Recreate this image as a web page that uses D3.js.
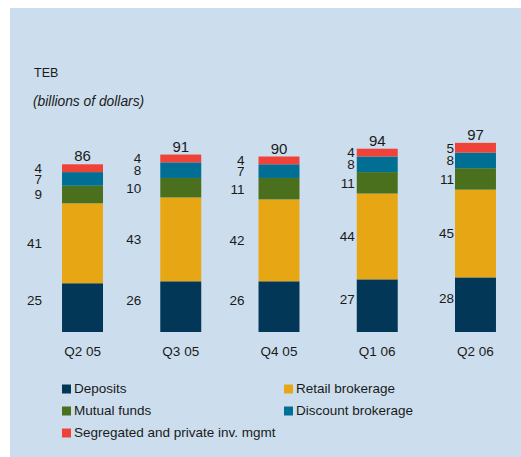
<!DOCTYPE html>
<html>
<head>
<meta charset="utf-8">
<script src="https://cdn.jsdelivr.net/npm/d3@7"></script>
<style>
  body { margin: 0; background: #fff; }
  svg { display: block; font-family: "Liberation Sans", Arial, sans-serif; }
</style>
</head>
<body>
<svg id="chart" width="521" height="457"></svg>
<script>
// data
const quarters = ["Q2 05", "Q3 05", "Q4 05", "Q1 06", "Q2 06"];
const seriesNames = ["Deposits", "Retail brokerage", "Mutual funds", "Discount brokerage", "Segregated and private inv. mgmt"];
const deposits = [25, 26, 26, 27, 28];
const retail = [41, 43, 42, 44, 45];
const mutual = [9, 10, 11, 11, 11];
const discount = [7, 8, 7, 8, 8];
const segregated = [4, 4, 4, 4, 5];
const totals = [86, 91, 90, 94, 97];

const colors = ["#023758", "#e7a614", "#4b701d", "#016f93", "#ef4239"];
// label distance left of each bar (the original is not consistent)
const labelGap = [20, 19, 14, 2, 1];

const svg = d3.select("#chart");

svg.append("rect")
    .attr("x", 10).attr("y", 8)
    .attr("width", 511).attr("height", 449)
    .attr("fill", "#ccdeed");

// titles
svg.append("text")
    .attr("x", 34).attr("y", 77)
    .attr("font-size", 12.5)
    .attr("fill", "#1a1a1a")
    .text("TEB");

svg.append("text")
    .attr("x", 33).attr("y", 106)
    .attr("font-size", 13.8)
    .attr("font-style", "italic")
    .attr("fill", "#1a1a1a")
    .text("(billions of dollars)");

// scales
const x = d3.scaleBand()
    .domain(quarters)
    .range([33.4, 524.6])
    .paddingInner(0.583)
    .paddingOuter(0.2915);

const y = d3.scaleLinear()
    .domain([0, 100])
    .range([332, 137]);

const table = quarters.map((q, i) => ({
    quarter: q,
    "Deposits": deposits[i],
    "Retail brokerage": retail[i],
    "Mutual funds": mutual[i],
    "Discount brokerage": discount[i],
    "Segregated and private inv. mgmt": segregated[i]
}));

const stacked = d3.stack().keys(seriesNames)(table);

const g = svg.append("g");

const layers = g.selectAll(".layer")
    .data(stacked)
    .enter().append("g")
    .attr("class", "layer")
    .attr("fill", (d, i) => colors[i]);

layers.selectAll("rect")
    .data(d => d)
    .enter().append("rect")
    .attr("x", d => x(d.data.quarter))
    .attr("y", d => y(d[1]))
    .attr("width", x.bandwidth())
    .attr("height", d => y(d[0]) - y(d[1]));

// segment labels on the left of bars
stacked.forEach((layer, si) => {
    g.selectAll(".lbl-" + si)
        .data(layer)
        .enter().append("text")
        .attr("class", "lbl-" + si)
        .attr("x", (d, i) => x(d.data.quarter) - labelGap[i])
        .attr("y", d => (y(d[0]) + y(d[1])) / 2 + (si === 0 ? -7 : 0))
        .attr("dy", "0.36em")
        .attr("text-anchor", "end")
        .attr("font-size", 13.5)
        .attr("fill", "#1a1a1a")
        .text(d => d[1] - d[0]);
});

// totals
g.selectAll(".total")
    .data(totals)
    .enter().append("text")
    .attr("class", "total")
    .attr("x", (d, i) => x(quarters[i]) + x.bandwidth() / 2)
    .attr("y", d => y(d) - 3)
    .attr("text-anchor", "middle")
    .attr("font-size", 15)
    .attr("fill", "#1a1a1a")
    .text(d => d);

// x axis (labels only)
const xAxis = d3.axisBottom(x).tickSize(0).tickPadding(14);
const ax = svg.append("g")
    .attr("transform", "translate(0,332)")
    .call(xAxis);
ax.select(".domain").remove();
ax.selectAll("text")
    .attr("font-size", 13.5)
    .attr("font-family", "Liberation Sans, Arial, sans-serif")
    .attr("fill", "#1a1a1a");

// legend
const legend = svg.append("g")
    .selectAll("g")
    .data(seriesNames)
    .enter().append("g")
    .attr("transform", (d, i) => `translate(${i % 2 === 0 ? 62 : 284},${393 + Math.floor(i / 2) * 22})`);

legend.append("rect")
    .attr("x", 0).attr("y", -8.5)
    .attr("width", 9).attr("height", 9)
    .attr("fill", (d, i) => colors[i]);

legend.append("text")
    .attr("x", 12).attr("y", 0)
    .attr("font-size", 13.5)
    .attr("fill", "#1a1a1a")
    .text(d => d);
</script>
</body>
</html>
